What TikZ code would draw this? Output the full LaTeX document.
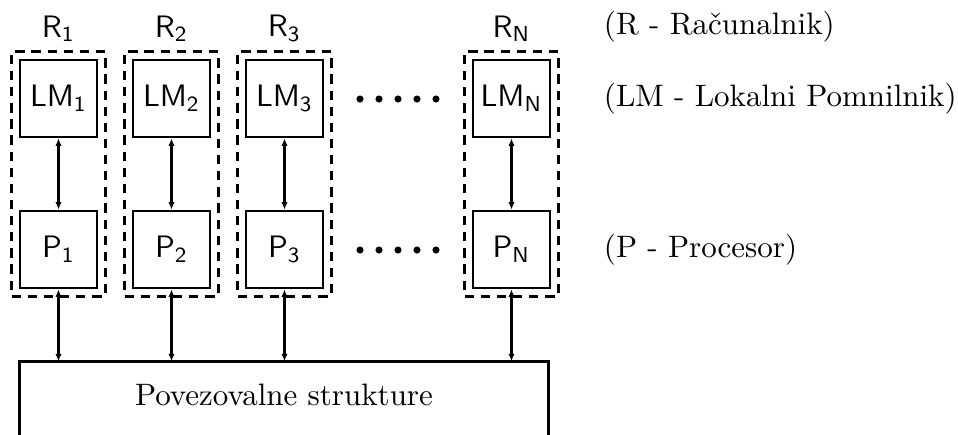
\documentclass[tikz,border=0pt]{standalone}
\usepackage{tikz}
\usetikzlibrary{arrows.meta,positioning,calc,fit}

\begin{document}
\begin{tikzpicture}[x=0.3226pt,y=-0.3226pt,font=\sffamily,
  unitbox/.style={draw,line width=0.9pt,minimum size=24.8pt,inner sep=0pt},
  compbox/.style={draw,line width=0.9pt,dash pattern=on 3pt off 2.2pt,inner sep=2.26pt},
  link/.style={{Latex[length=2.4pt,width=2pt]}-{Latex[length=2.4pt,width=2pt]},line width=0.7pt},
  legend/.style={anchor=west,font=\rmfamily}]
  \useasboundingbox (0,0) rectangle (958,434);
  % ---- computers: local memory + processor ----
  \foreach \i/\x in {1/58.5,2/171.5,3/284.5,N/511.5}{
    \node[unitbox] (LM\i) at (\x,98.5) {LM\textsubscript{\i}};
    \node[unitbox] (P\i) at (\x,249.5) {P\textsubscript{\i}};
    \node[compbox,fit=(LM\i)(P\i)] (R\i) {};
    \node[above,inner sep=2.5pt] (Rt\i) at (R\i.north) {R\textsubscript{\i}};
    \draw[link] (LM\i) -- (P\i);
  }
  % ---- dots between 3 and N ----
  \foreach \x in {360,379,398,417,436}{
    \fill (\x,99) circle (1.15pt) (\x,250) circle (1.15pt);}
  % ---- interconnect ----
  \node[minimum width=170.3pt,minimum height=21.3pt,inner sep=0pt,font=\rmfamily] (bus) at (284,395) {Povezovalne strukture};
  \draw[line width=0.9pt] ($(bus.south west)+(0,20)$) -- (bus.north west) -- (bus.north east) -- ($(bus.south east)+(0,20)$);
  \foreach \i in {1,2,3,N}{
    \draw[link] (P\i.south) -- (P\i.south |- bus.north);}
  % ---- legend ----
  \node[legend] (legR) at (593,27) {(R - Računalnik)};
  \node[legend] (legLM) at (593,99) {(LM - Lokalni Pomnilnik)};
  \node[legend] (legP) at (593,250) {(P - Procesor)};
\end{tikzpicture}
\end{document}
